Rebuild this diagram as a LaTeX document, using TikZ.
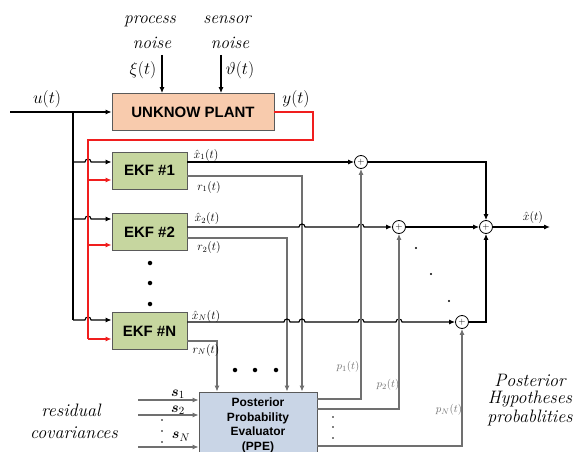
\documentclass[tikz,border=0pt]{standalone}
\usepackage{amsmath}
\usepackage{fontspec}
\newfontfamily\boxfont{Liberation Sans}
\usetikzlibrary{arrows.meta,calc}
\definecolor{plantfill}{HTML}{F8CBAD}
\definecolor{ekffill}{HTML}{C6D69F}
\definecolor{ppefill}{HTML}{C9D5E6}
\definecolor{edge}{HTML}{5A5A5A}
\definecolor{wire}{HTML}{707070}
\definecolor{redwire}{HTML}{F01E1E}
\begin{document}
\begin{tikzpicture}[x=1pt,y=-1pt,
  arr/.style={-{Latex[length=6pt,width=5pt]}},
  blk/.style={line width=1.1pt,black},
  gry/.style={line width=1.1pt,wire},
  redw/.style={line width=1.3pt,redwire},
  box/.style={draw=edge,line width=0.8pt,minimum width=75pt,minimum height=37pt,inner sep=0pt,
    font=\boxfont\bfseries\fontsize{15}{18}\selectfont},
  sumc/.style={circle,draw=black,line width=0.8pt,minimum size=13pt,inner sep=0pt,
    font=\fontsize{9}{9}\selectfont},
  itxt/.style={font=\itshape\fontsize{17.5}{20}\selectfont},
  itbig/.style={font=\itshape\fontsize{18}{20}\selectfont},
  bigm/.style={font=\fontsize{18}{20}\selectfont},
  smallm/.style={font=\fontsize{12}{14}\selectfont},
  plab/.style={font=\fontsize{11}{13}\selectfont,text=wire},
  slab/.style={font=\fontsize{15}{16}\selectfont,inner sep=0pt},
  bigdot/.style={circle,fill=black,inner sep=0pt,minimum size=4.5pt},
  tinydot/.style={circle,fill=black,inner sep=0pt,minimum size=2.2pt}]
\useasboundingbox (0,0) rectangle (574,452);
\clip (0,0) rectangle (574,452);

% ---------- blocks ----------
\node[box,fill=plantfill,minimum width=162pt] (plant) at (193,112) {UNKNOW PLANT};
\node[box,fill=ekffill] (ekf1) at (149.5,170.5) {EKF \#1};
\node[box,fill=ekffill] (ekf2) at (149.5,232) {EKF \#2};
\node[box,fill=ekffill] (ekfN) at (149.5,331) {EKF \#N};
\node[draw=edge,line width=0.8pt,fill=ppefill,minimum width=118pt,minimum height=64pt,inner sep=0pt] (ppe) at (258,424) {};
\node[font=\boxfont\bfseries\fontsize{12}{14.5}\selectfont,align=center] (ppetext) at (258,425.5)
  {Posterior\\Probability\\Evaluator\\(PPE)};

\node[sumc] (sum1) at (361,162) {$+$};
\node[sumc] (sum2) at (399,227) {$+$};
\node[sumc] (sumN) at (462,322) {$+$};
\node[sumc] (sumF) at (486,227) {$+$};

% ---------- free ends ----------
\coordinate (uin) at (10,112);
\coordinate (usplit) at (73,112);
\coordinate (ubot) at (73,320);
\coordinate (b1) at (73,162);
\coordinate (b2) at (73,219);
\coordinate (pn) at (162,55);
\coordinate (sn) at (221,55);
\coordinate (rc) at (313,140);
\coordinate (rbot) at (88,339);
\coordinate (rr1) at (88,180);
\coordinate (rr2) at (88,245);
\coordinate (xout) at (550,227);
\coordinate (s1in) at (138,400);
\coordinate (s2in) at (138,415);
\coordinate (sNin) at (138,447);

% ---------- input u(t) ----------
\draw[blk,arr] (uin) -- (plant.west);
\draw[blk] (usplit) -- (ubot);
\draw[blk,arr] (ubot) -- (85,320) arc[start angle=180,end angle=360,radius=3] -- (ekfN.west |- 0,320);
\draw[blk,arr] (b1) -- (85,162) arc[start angle=180,end angle=360,radius=3] -- (ekf1.west |- 0,162);
\draw[blk,arr] (b2) -- (85,219) arc[start angle=180,end angle=360,radius=3] -- (ekf2.west |- 0,219);

% ---------- noises ----------
\draw[blk,arr] (pn) -- (plant.north -| 162,0);
\draw[blk,arr] (sn) -- (plant.north -| 221,0);

% ---------- measured output y(t) (red) ----------
\draw[redw] (plant.east) -| (rc) -| (rbot);
\draw[redw,arr] (rbot) -- (ekfN.west |- 0,339);
\draw[redw,arr] (rr1) -- (ekf1.west |- 0,180);
\draw[redw,arr] (rr2) -- (ekf2.west |- 0,245);

% ---------- residuals ----------
\draw[gry,arr] (ekf1.east |- 0,176) -| (ppe.north -| 302,0);
\draw[gry,arr] (ekf2.east |- 0,238) -| (ppe.north -| 287,0);
\draw[gry,arr] (ekfN.east |- 0,341) -| (ppe.north -| 217,0);

% ---------- state estimates ----------
\draw[blk,arr] (ekf1.east |- 0,162) -- (sum1.west);
\draw[blk,arr] (ekf2.east |- 0,227) -- (299,227) arc[start angle=180,end angle=360,radius=3]
  -- (358,227) arc[start angle=180,end angle=360,radius=3] -- (sum2.west);
\draw[blk,arr] (ekfN.east |- 0,322) -- (284,322) arc[start angle=180,end angle=360,radius=3]
  -- (299,322) arc[start angle=180,end angle=360,radius=3]
  -- (358,322) arc[start angle=180,end angle=360,radius=3]
  -- (396,322) arc[start angle=180,end angle=360,radius=3] -- (sumN.west);

% ---------- probabilities ----------
\draw[gry,arr] (ppe.east |- 0,399) -| (sum1.south);
\draw[gry,arr] (ppe.east |- 0,409) -| (sum2.south);
\draw[gry,arr] (ppe.east |- 0,446) -| (sumN.south);

% ---------- covariance inputs ----------
\draw[gry,arr] (s1in) -- (ppe.west |- 0,400);
\draw[gry,arr] (s2in) -- (ppe.west |- 0,415);
\draw[gry,arr] (sNin) -- (ppe.west |- 0,447);

% ---------- fusion ----------
\draw[blk,arr] (sum1.east) -| (sumF.north);
\draw[blk,arr] (sum2.east) -- (sumF.west);
\draw[blk,arr] (sumN.east) -| (sumF.south);
\draw[blk,arr] (sumF.east) -- (xout);

% ---------- dots ----------
\node[bigdot] (d1) at (150,263) {};
\node[bigdot] (d2) at (150,283) {};
\node[bigdot] (d3) at (150,304) {};
\node[bigdot] (d4) at (235,370) {};
\node[bigdot] (d5) at (255,370) {};
\node[bigdot] (d6) at (276,370) {};
\node[tinydot] (d7) at (416,248) {};
\node[tinydot] (d8) at (431,274) {};
\node[tinydot] (d9) at (449,301) {};
\node[tinydot,minimum size=1.6pt] (d10) at (162,420) {};
\node[tinydot,minimum size=1.6pt] (d11) at (162,431) {};
\node[tinydot,minimum size=1.6pt] (d12) at (162,442) {};
\node[tinydot,minimum size=1.6pt] (d13) at (333,417) {};
\node[tinydot,minimum size=1.6pt] (d14) at (333,427) {};
\node[tinydot,minimum size=1.6pt] (d15) at (333,438) {};

% ---------- labels ----------
\node[itxt] (l1) at (150,21) {process};
\node[itxt] (l2) at (152,43) {noise};
\node[itxt] (l3) at (227,20) {sensor};
\node[itxt] (l4) at (230,43) {noise};
\node[bigm] (l5) at (143,70) {$\xi(t)$};
\node[bigm] (l6) at (240,70) {$\vartheta(t)$};
\node[bigm] (l7) at (47,99) {$u(t)$};
\node[bigm] (l8) at (296,99) {$y(t)$};

\node[smallm] (l9) at (206,155) {$\hat{x}_1(t)$};
\node[smallm] (l10) at (209,187) {$r_1(t)$};
\node[smallm] (l11) at (207,219) {$\hat{x}_2(t)$};
\node[smallm] (l12) at (209,248) {$r_2(t)$};
\node[smallm] (l13) at (206,316) {$\hat{x}_N(t)$};
\node[smallm] (l14) at (206,350) {$r_N(t)$};
\node[smallm,anchor=south,inner sep=1pt] (l15) at (533,225) {$\hat{x}(t)$};

\node[plab] (l16) at (348,367) {$p_1(t)$};
\node[plab] (l17) at (388,385) {$p_2(t)$};
\node[plab] (l18) at (449,410) {$p_N(t)$};

\node[slab] (l19) at (178,394) {$\boldsymbol{s}_1$};
\node[slab] (l20) at (178,410) {$\boldsymbol{s}_2$};
\node[slab] (l21) at (181,437) {$\boldsymbol{s}_N$};

\node[itbig] (l22) at (71,410) {residual};
\node[itbig] (l23) at (74,433) {covariances};
\node[itbig] (l24) at (530,380) {Posterior};
\node[itbig] (l25) at (530,399) {Hypotheses};
\node[itbig] (l26) at (530,418) {probablities};
\end{tikzpicture}
\end{document}
